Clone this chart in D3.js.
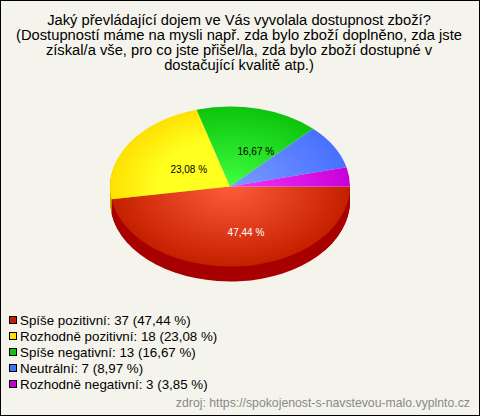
<!DOCTYPE html>
<html><head><meta charset="utf-8"><script src="https://cdn.jsdelivr.net/npm/d3@7"></script>
<style>html,body{margin:0;padding:0;background:#f5f4ec}svg{display:block}text{font-family:"Liberation Sans",Arial,sans-serif}</style></head>
<body><div id="c"></div><script>
const categories=["Spíše pozitivní","Rozhodně pozitivní","Spíše negativní","Neutrální","Rozhodně negativní"];
const counts=[37,18,13,7,3];
const percentLabels=["47,44 %","23,08 %","16,67 %","8,97 %","3,85 %"];
const innerColors=["#ff5c3c","#ffff20","#40ff40","#7a9cff","#f038ff"];
const outerColors=["#c42000","#ffe000","#0cc40c","#4870ff","#c800d8"];
const sideColors=["#a80000","#c8b000","#008800","#2040c0","#900098"];
const titleLines=["Jaký převládající dojem ve Vás vyvolala dostupnost zboží?","(Dostupností máme na mysli např. zda bylo zboží doplněno, zda jste","získal/a vše, pro co jste přišel/la, zda bylo zboží dostupné v","dostačující kvalitě atp.)"];
const sourceText="zdroj: https://spokojenost-s-navstevou-malo.vyplnto.cz";

const W=480,H=416,cx=230,cy=186.5,rx=120,ry=80,depth=15;
const svg=d3.select("#c").append("svg").attr("width",W).attr("height",H);
svg.append("rect").attr("x",0.5).attr("y",0.5).attr("width",W-1).attr("height",H-1).attr("fill","#f5f4ec").attr("stroke","#000");
const defs=svg.append("defs");
categories.forEach((c,i)=>{
  const g=defs.append("radialGradient").attr("id","g"+i).attr("gradientUnits","userSpaceOnUse").attr("cx",0).attr("cy",0).attr("r",rx);
  g.append("stop").attr("offset",0).attr("stop-color",innerColors[i]);
  g.append("stop").attr("offset",i==1?0.6:0).attr("stop-color",innerColors[i]);
  g.append("stop").attr("offset",1).attr("stop-color",outerColors[i]);
});
svg.append("g").attr("font-size",14.72).attr("text-anchor","middle").selectAll("text").data(titleLines).join("text")
  .attr("x",239).attr("y",(d,i)=>25+i*15).attr("fill","#000").text(d=>d);

const pie=d3.pie().value(d=>d).sort(null).startAngle(Math.PI/2).endAngle(Math.PI/2+2*Math.PI);
const arcs=pie(counts);
const arc=d3.arc().innerRadius(0).outerRadius(rx);
const k=ry/rx;
const sideG=svg.append("g");
d3.range(depth,0,-1).forEach(dy=>{
  sideG.append("g").attr("transform",`translate(${cx},${cy+dy}) scale(1,${k})`)
    .selectAll("path").data(arcs.slice(0,2)).join("path").attr("d",arc).attr("fill",(d,i)=>sideColors[i]);
});
svg.append("g").attr("transform",`translate(${cx},${cy}) scale(1,${k})`)
  .selectAll("path").data(arcs).join("path").attr("d",arc).attr("fill",(d,i)=>`url(#g${i})`);
const lab=d3.arc().innerRadius(rx*0.515).outerRadius(rx*0.515);
svg.append("g").attr("font-size",10).attr("text-anchor","middle").selectAll("text").data(arcs.slice(0,3)).join("text")
  .attr("x",d=>cx+11+lab.centroid(d)[0]).attr("y",d=>cy+4.6+lab.centroid(d)[1]*k+3.5)
  .attr("fill",(d,i)=>i==0?"#fff":"#000").text((d,i)=>percentLabels[i]);
const leg=svg.append("g").selectAll("g").data(categories).join("g").attr("transform",(d,i)=>`translate(0,${320+i*16})`);
leg.append("rect").attr("x",9.5).attr("y",-3.5).attr("width",7).attr("height",7).attr("fill",(d,i)=>outerColors[i]).attr("stroke","#000");
leg.append("text").attr("x",20).attr("y",5).attr("font-size",13.35).attr("fill","#000").text((d,i)=>`${d}: ${counts[i]} (${percentLabels[i]})`);
svg.append("text").attr("x",470).attr("y",407).attr("text-anchor","end").attr("font-size",12.25).attr("fill","#888").text(sourceText);
</script></body></html>
